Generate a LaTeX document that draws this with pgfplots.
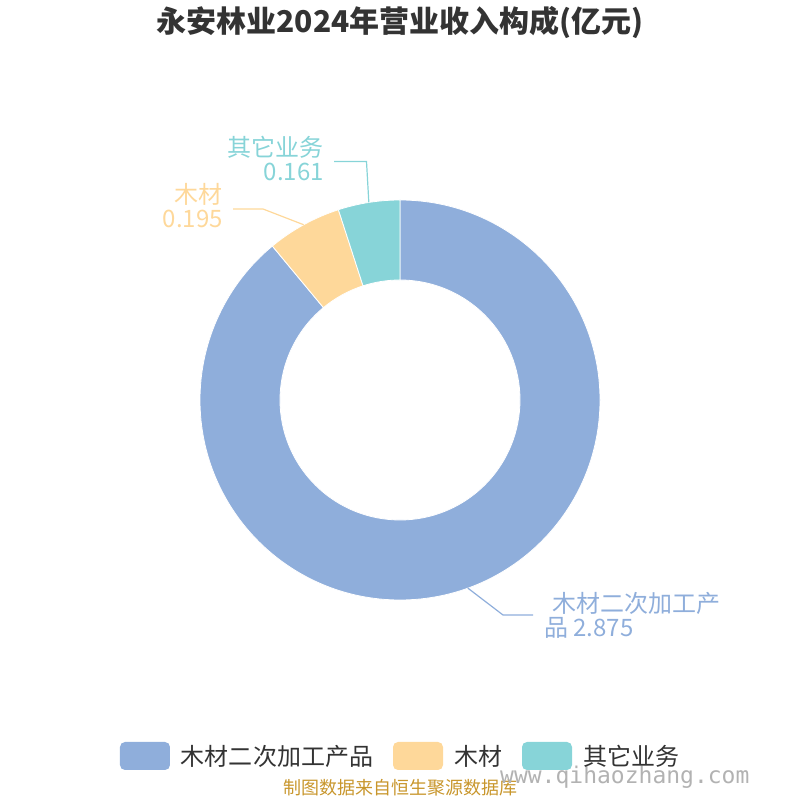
\documentclass[border=0pt]{standalone}
\usepackage{fontspec}
\setmainfont{Noto Sans CJK SC}
\newfontfamily\wmfont{DejaVu Sans Mono}
\usepackage{pgfplots}
\usepackage{pgfplotstable}
\pgfplotsset{compat=1.18}
\definecolor{cBlue}{HTML}{8FAEDB}
\definecolor{cOrange}{HTML}{FED89A}
\definecolor{cCyan}{HTML}{87D4D8}
\definecolor{cText}{HTML}{333333}
\definecolor{cSrc}{HTML}{C8962C}

% values (亿元): 木材二次加工产品, 木材, 其它业务
\pgfplotstableread{
value
2.875
0.195
0.161
}\pietable

\begin{document}
\begin{tikzpicture}
\pgfplotstablegetelem{0}{value}\of\pietable \edef\vA{\pgfplotsretval}
\pgfplotstablegetelem{1}{value}\of\pietable \edef\vB{\pgfplotsretval}
\pgfplotstablegetelem{2}{value}\of\pietable \edef\vC{\pgfplotsretval}
\pgfmathsetmacro\tot{\vA+\vB+\vC}
\pgfmathsetmacro\aZ{90}
\pgfmathsetmacro\aA{90-360*\vA/\tot}
\pgfmathsetmacro\aB{\aA-360*\vB/\tot}
\pgfmathsetmacro\aC{\aB-360*\vC/\tot}
\pgfmathsetmacro\mA{(\aZ+\aA)/2}
\pgfmathsetmacro\mB{(\aA+\aB)/2}
\pgfmathsetmacro\mC{(\aB+\aC)/2}
\begin{axis}[
  x=1bp, y=1bp, xmin=0, xmax=800, ymin=0, ymax=800,
  hide axis, clip=false,
  legend style={at={(axis cs:400,44)}, anchor=center, draw=none, fill=none,
    legend columns=3, font=\fontsize{24bp}{26bp}\selectfont, text=cText,
    /tikz/every even column/.append style={column sep=19bp},
    nodes={inner sep=1bp}},
  legend cell align=left,
  legend image code/.code={\fill[#1, rounded corners=5bp] (0bp,-14bp) rectangle (50bp,14bp);},
]
\addlegendimage{fill=cBlue, draw=none}
\addlegendentry{\hspace{10bp}木材二次加工产品}
\addlegendimage{fill=cOrange, draw=none}
\addlegendentry{\hspace{10bp}木材}
\addlegendimage{fill=cCyan, draw=none}
\addlegendentry{\hspace{10bp}其它业务}

\path (axis cs:0,0) rectangle (axis cs:800,800);

% donut slices
\fill[cBlue, draw=white, line width=0.8bp]
  (axis cs:{400+200*cos(\aZ)},{400+200*sin(\aZ)}) arc[start angle=\aZ, end angle=\aA, radius=200bp]
  -- (axis cs:{400+120*cos(\aA)},{400+120*sin(\aA)}) arc[start angle=\aA, end angle=\aZ, radius=120bp] -- cycle;
\fill[cOrange, draw=white, line width=0.8bp]
  (axis cs:{400+200*cos(\aA)},{400+200*sin(\aA)}) arc[start angle=\aA, end angle=\aB, radius=200bp]
  -- (axis cs:{400+120*cos(\aB)},{400+120*sin(\aB)}) arc[start angle=\aB, end angle=\aA, radius=120bp] -- cycle;
\fill[cCyan, draw=white, line width=0.8bp]
  (axis cs:{400+200*cos(\aB)},{400+200*sin(\aB)}) arc[start angle=\aB, end angle=\aC, radius=200bp]
  -- (axis cs:{400+120*cos(\aC)},{400+120*sin(\aC)}) arc[start angle=\aC, end angle=\aB, radius=120bp] -- cycle;

% leader lines
\draw[cBlue, line width=1.2bp] (axis cs:{400+200*cos(\mA)},{400+200*sin(\mA)}) -- (axis cs:503,185) -- (axis cs:533,185);
\draw[cOrange, line width=1.2bp] (axis cs:{400+200*cos(\mB)},{400+200*sin(\mB)}) -- (axis cs:263,591) -- (axis cs:233,591);
\draw[cCyan, line width=1.2bp] (axis cs:{400+200*cos(\mC)},{400+200*sin(\mC)}) -- (axis cs:366.5,638.5) -- (axis cs:334,638.5);

% labels
\node[anchor=west, align=left, text=cBlue, inner sep=0pt, font=\fontsize{24bp}{24bp}\selectfont]
  at (axis cs:544,185) {\hspace{8bp}木材二次加工产\\品 2.875};
\node[anchor=east, align=right, text=cOrange, inner sep=0pt, font=\fontsize{24bp}{24bp}\selectfont]
  at (axis cs:223,594) {木材\\0.195};
\node[anchor=east, align=right, text=cCyan, inner sep=0pt, font=\fontsize{24bp}{24bp}\selectfont]
  at (axis cs:324,641) {其它业务\\0.161};

% title
\node[text=cText, font=\fontsize{30bp}{32bp}\selectfont\bfseries] at (axis cs:400,777) {永安林业2024年营业收入构成(亿元)};
% source
\node[text=cSrc, font=\fontsize{18bp}{20bp}\selectfont] at (axis cs:400,12) {制图数据来自恒生聚源数据库};
% watermark
\node[text=gray!60, font=\wmfont\fontsize{23bp}{23bp}\selectfont, anchor=west, inner sep=0pt] at (axis cs:500,23) {www.qihaozhang.com};
\end{axis}
\end{tikzpicture}
\end{document}
